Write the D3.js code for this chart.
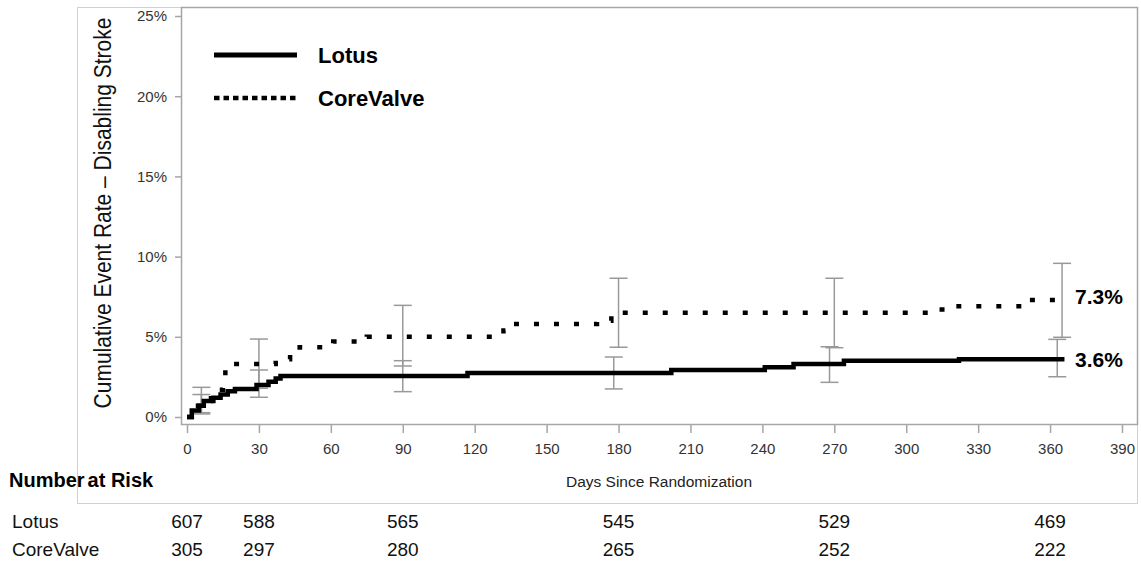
<!DOCTYPE html>
<html>
<head>
<meta charset="utf-8">
<script src="https://cdn.jsdelivr.net/npm/d3@7"></script>
<style>
    body { margin: 0; background: #fff; }
    svg { font-family: "Liberation Sans", Arial, sans-serif; display: block; }
    .tick text { fill: #333; }
</style>
</head>
<body>
<script>
//sudo-global data arrays
// Kaplan-Meier step points (days, percent)
var lotusDays  = [0, 2, 5, 7, 11, 14, 17, 20, 29, 34, 37, 39, 117, 202, 241, 253, 274, 322, 366];
var lotusRates = [0, 0.4, 0.7, 1.0, 1.2, 1.4, 1.6, 1.75, 2.0, 2.2, 2.4, 2.55, 2.75, 2.93, 3.1, 3.3, 3.5, 3.6, 3.6];

var coreDays  = [0, 2, 6, 10, 13, 15, 16, 37, 43, 47, 61, 75, 132, 134, 171, 177, 313, 320, 350, 366];
var coreRates = [0, 0.7, 1.0, 1.4, 1.7, 2.4, 3.3, 3.6, 4.0, 4.35, 4.7, 5.0, 5.4, 5.8, 6.0, 6.5, 6.7, 6.9, 7.3, 7.3];

// 95% CI bars
var lotusCiDays  = [6, 30, 90, 178, 268, 363];
var lotusLower   = [0.27, 1.23, 1.58, 1.75, 2.16, 2.51];
var lotusUpper   = [1.4, 2.93, 3.51, 3.74, 4.38, 4.84];
var coreCiDays   = [6, 30, 90, 180, 270, 365];
var coreLower    = [0.19, 1.79, 3.18, 4.35, 4.32, 4.97];
var coreUpper    = [1.85, 4.86, 6.96, 8.65, 8.65, 9.58];

// end labels
var endLabels = ["7.3%", "3.6%"];

// number at risk table
var riskDays  = [0, 30, 90, 180, 270, 360];
var lotusRisk = [607, 588, 565, 545, 529, 469];
var coreRisk  = [305, 297, 280, 265, 252, 222];

// ticks
var xTicks = [0, 30, 60, 90, 120, 150, 180, 210, 240, 270, 300, 330, 360, 390];
var yTicks = [0, 5, 10, 15, 20, 25];

// page dimensions
var width = 1141,
    height = 563;

// plot box
var box = {left: 181, top: 7, right: 1137, bottom: 424};

var svg = d3.select("body")
    .append("svg")
    .attr("width", width)
    .attr("height", height);

// scales
var x = d3.scaleLinear().domain([0, 390]).range([187, 1122]);
var y = d3.scaleLinear().domain([0, 25]).range([417, 16]);

// outer frame (faint)
svg.append("rect")
    .attr("x", 77.5)
    .attr("y", 7.5)
    .attr("width", box.right - 77)
    .attr("height", 503 - 7)
    .attr("fill", "none")
    .attr("stroke", "#d0d0d0")
    .attr("stroke-width", 1);

// plot frame
svg.append("rect")
    .attr("x", box.left + 0.5)
    .attr("y", box.top + 0.5)
    .attr("width", box.right - box.left)
    .attr("height", box.bottom - box.top)
    .attr("fill", "#fff")
    .attr("stroke", "#a6a6a6")
    .attr("stroke-width", 1.5);

// y axis
var yAxis = svg.append("g")
    .attr("transform", "translate(" + box.left + ",0)")
    .call(d3.axisLeft(y)
        .tickValues(yTicks)
        .tickSize(6)
        .tickPadding(8)
        .tickFormat(function(d){ return d + "%"; }));
yAxis.select(".domain").remove();
yAxis.selectAll("line").attr("stroke", "#a6a6a6").attr("stroke-width", 1.5);
yAxis.selectAll("text").style("font-size", "15px");

// x axis
var xAxis = svg.append("g")
    .attr("transform", "translate(0," + (box.bottom + 1) + ")")
    .call(d3.axisBottom(x)
        .tickValues(xTicks)
        .tickSize(8)
        .tickPadding(10));
xAxis.select(".domain").remove();
xAxis.selectAll("line").attr("stroke", "#a6a6a6").attr("stroke-width", 1.5);
xAxis.selectAll("text").style("font-size", "15px");

// axis titles
svg.append("text")
    .attr("transform", "translate(111,213) rotate(-90) scale(1,1.12)")
    .attr("text-anchor", "middle")
    .style("font-size", "21px")
    .attr("fill", "#111")
    .text("Cumulative Event Rate \u2013 Disabling Stroke");

svg.append("text")
    .attr("x", 659)
    .attr("y", 487)
    .attr("text-anchor", "middle")
    .style("font-size", "15.5px")
    .attr("fill", "#222")
    .text("Days Since Randomization");

// error bars
function drawCi(days, lower, upper){
    var g = svg.append("g")
        .attr("stroke", "#999")
        .attr("stroke-width", 1.5)
        .attr("fill", "none");
    days.forEach(function(d, i){
        var cx = x(d);
        g.append("line")
            .attr("x1", cx).attr("x2", cx)
            .attr("y1", y(lower[i])).attr("y2", y(upper[i]));
        [lower[i], upper[i]].forEach(function(v){
            g.append("line")
                .attr("x1", cx - 9).attr("x2", cx + 9)
                .attr("y1", y(v)).attr("y2", y(v));
        });
    });
}
drawCi(coreCiDays, coreLower, coreUpper);
drawCi(lotusCiDays, lotusLower, lotusUpper);

// step curves
var line = d3.line()
    .x(function(d){ return x(d[0]); })
    .y(function(d){ return y(d[1]); })
    .curve(d3.curveStepAfter);

svg.append("path")
    .datum(d3.zip(coreDays, coreRates))
    .attr("d", line)
    .attr("fill", "none")
    .attr("stroke", "#000")
    .attr("stroke-width", 4.5)
    .attr("stroke-dasharray", "5,15");

svg.append("path")
    .datum(d3.zip(lotusDays, lotusRates))
    .attr("d", line)
    .attr("fill", "none")
    .attr("stroke", "#000")
    .attr("stroke-width", 4.5);

// end-of-curve labels
svg.append("text")
    .attr("x", 1075)
    .attr("y", y(coreRates[coreRates.length - 1]) - 3)
    .attr("dominant-baseline", "central")
    .style("font-size", "21px")
    .style("font-weight", "bold")
    .text(endLabels[0]);

svg.append("text")
    .attr("x", 1075)
    .attr("y", y(lotusRates[lotusRates.length - 1]))
    .attr("dominant-baseline", "central")
    .style("font-size", "21px")
    .style("font-weight", "bold")
    .text(endLabels[1]);

// legend
var legend = svg.append("g");
legend.append("line")
    .attr("x1", 214).attr("x2", 297)
    .attr("y1", 55).attr("y2", 55)
    .attr("stroke", "#000")
    .attr("stroke-width", 5);
legend.append("text")
    .attr("x", 318).attr("y", 55)
    .attr("dominant-baseline", "central")
    .style("font-size", "22px")
    .style("font-weight", "bold")
    .text("Lotus");
legend.append("line")
    .attr("x1", 214).attr("x2", 297)
    .attr("y1", 98).attr("y2", 98)
    .attr("stroke", "#000")
    .attr("stroke-width", 4.5)
    .attr("stroke-dasharray", "5.5,4");
legend.append("text")
    .attr("x", 318).attr("y", 98)
    .attr("dominant-baseline", "central")
    .style("font-size", "22px")
    .style("font-weight", "bold")
    .text("CoreValve");

// number at risk table
var riskTitle = svg.append("text")
    .attr("x", 9).attr("y", 480)
    .attr("dominant-baseline", "central")
    .style("font-size", "20px")
    .style("font-weight", "bold");
riskTitle.append("tspan").text("Number");
riskTitle.append("tspan").attr("dx", 3).text("at Risk");

var rows = [["Lotus", lotusRisk, 521], ["CoreValve", coreRisk, 549]];
rows.forEach(function(r){
    svg.append("text")
        .attr("x", 12).attr("y", r[2])
        .attr("dominant-baseline", "central")
        .style("font-size", "19px")
        .attr("fill", "#111")
        .text(r[0]);
    svg.selectAll(null)
        .data(r[1])
        .enter()
        .append("text")
        .attr("x", function(d, i){ return x(riskDays[i]); })
        .attr("y", r[2])
        .attr("text-anchor", "middle")
        .attr("dominant-baseline", "central")
        .style("font-size", "19px")
        .attr("fill", "#111")
        .text(function(d){ return d; });
});
</script>
</body>
</html>
